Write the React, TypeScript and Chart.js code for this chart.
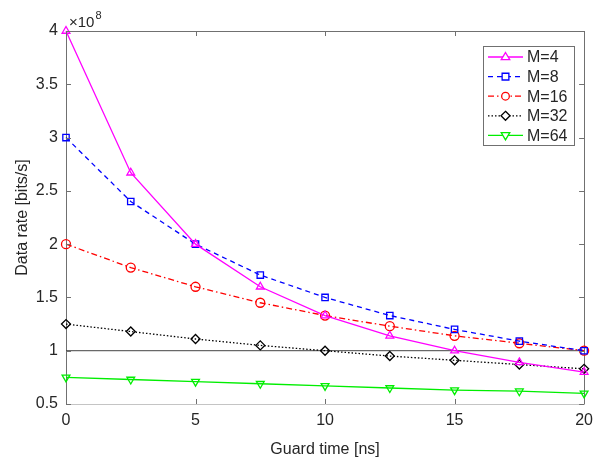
import React, { useEffect, useRef } from "react";
import { Chart, registerables } from "chart.js";

Chart.register(...registerables);

const guardTimes = [0, 2.5, 5, 7.5, 10, 12.5, 15, 17.5, 20];
const seriesNames = ["M=4", "M=8", "M=16", "M=32", "M=64"];
const rateM4 = [4.0, 2.67, 2.0, 1.6, 1.33, 1.14, 1.0, 0.89, 0.8];
const rateM8 = [3.0, 2.4, 2.0, 1.71, 1.5, 1.33, 1.2, 1.09, 1.0];
const rateM16 = [2.0, 1.78, 1.6, 1.45, 1.33, 1.23, 1.14, 1.07, 1.0];
const rateM32 = [1.25, 1.18, 1.11, 1.05, 1.0, 0.95, 0.91, 0.87, 0.83];
const rateM64 = [0.75, 0.73, 0.71, 0.69, 0.67, 0.65, 0.63, 0.62, 0.6];
const refLineY = [1, 1];
const refLineX = [0, 20];
const xTitle = "Guard time [ns]";
const yTitle = "Data rate [bits/s]";

const FONT = "'Liberation Sans', Arial, Helvetica, sans-serif";
const TXT = "#262626";
const AXC = "#707070";

const styles = [
  { color: "#ff00ff", dash: [] as number[], point: "triangle", rot: 0 },
  { color: "#0000ff", dash: [5, 4], point: "rect", rot: 0 },
  { color: "#ff0000", dash: [6, 3, 1.5, 3], point: "circle", rot: 0 },
  { color: "#000000", dash: [1.5, 2], point: "rectRot", rot: 0 },
  { color: "#00ee00", dash: [] as number[], point: "triangle", rot: 180 },
];

const seriesData = [rateM4, rateM8, rateM16, rateM32, rateM64];

function drawMarker(ctx: CanvasRenderingContext2D, kind: string, rot: number, r: number, x: number, y: number) {
  ctx.save();
  ctx.translate(x, y);
  ctx.rotate((rot * Math.PI) / 180);
  ctx.beginPath();
  if (kind === "triangle") {
    ctx.moveTo(0, -r);
    ctx.lineTo(r * 0.95, r * 0.6);
    ctx.lineTo(-r * 0.95, r * 0.6);
    ctx.closePath();
  } else if (kind === "rect") {
    const h = r * 0.75;
    ctx.rect(-h, -h, 2 * h, 2 * h);
  } else if (kind === "circle") {
    ctx.arc(0, 0, r * 0.85, 0, Math.PI * 2);
  } else if (kind === "rectRot") {
    ctx.moveTo(0, -r);
    ctx.lineTo(r, 0);
    ctx.lineTo(0, r);
    ctx.lineTo(-r, 0);
    ctx.closePath();
  }
  ctx.fill();
  ctx.stroke();
  ctx.restore();
}

const decorPlugin = {
  id: "decor",
  beforeDatasetsDraw(chart: any) {
    const ctx = chart.ctx;
    const { left, right, top, bottom } = chart.chartArea;
    ctx.save();
    ctx.lineWidth = 1;
    ctx.setLineDash([]);
    // box: left, top, right in gray; bottom lighter
    const L = Math.round(left) + 0.5, R = Math.round(right) + 0.5, T = Math.round(top) + 0.5, B = Math.round(bottom) + 0.5;
    ctx.strokeStyle = AXC;
    ctx.beginPath();
    ctx.moveTo(L, B);
    ctx.lineTo(L, T);
    ctx.lineTo(R, T);
    ctx.lineTo(R, B);
    ctx.stroke();
    ctx.strokeStyle = "#c4c4c4";
    ctx.beginPath();
    ctx.moveTo(L, B);
    ctx.lineTo(R, B);
    ctx.stroke();
    ctx.restore();
  },
  afterDatasetsDraw(chart: any) {
    const ctx = chart.ctx;
    const { left, right, top, bottom } = chart.chartArea;
    const xs = chart.scales.x;
    const ys = chart.scales.y;
    ctx.save();
    ctx.strokeStyle = AXC;
    ctx.lineWidth = 1;
    ctx.setLineDash([]);
    const tl = 5;
    for (let v = 0; v <= 20; v += 5) {
      const px = Math.round(xs.getPixelForValue(v)) + 0.5;
      ctx.beginPath();
      ctx.moveTo(px, bottom);
      ctx.lineTo(px, bottom - tl);
      ctx.moveTo(px, top);
      ctx.lineTo(px, top + tl);
      ctx.stroke();
    }
    for (let v = 0.5; v <= 4.001; v += 0.5) {
      const py = Math.round(ys.getPixelForValue(v)) + 0.5;
      ctx.beginPath();
      ctx.moveTo(left, py);
      ctx.lineTo(left + tl, py);
      ctx.moveTo(right, py);
      ctx.lineTo(right - tl, py);
      ctx.stroke();
    }
    // exponent label
    ctx.fillStyle = TXT;
    ctx.font = `15px ${FONT}`;
    ctx.textBaseline = "alphabetic";
    ctx.textAlign = "left";
    ctx.fillText("\u00d710", left + 3, top - 4);
    const w = ctx.measureText("\u00d710").width;
    ctx.font = `11px ${FONT}`;
    ctx.fillText("8", left + 3 + w + 1, top - 12);

    // axis titles
    ctx.font = `16px ${FONT}`;
    ctx.textAlign = "center";
    ctx.textBaseline = "middle";
    ctx.fillText(xTitle, (left + right) / 2, 450);
    ctx.save();
    ctx.translate(23, (top + bottom) / 2);
    ctx.rotate(-Math.PI / 2);
    ctx.fillText(yTitle, 0, 0);
    ctx.restore();

    // legend
    const bx = 483, by = 46, bw = 91, bh = 99;
    ctx.fillStyle = "#ffffff";
    ctx.fillRect(bx, by, bw, bh);
    ctx.strokeStyle = AXC;
    ctx.lineWidth = 1;
    ctx.strokeRect(bx + 0.5, by + 0.5, bw, bh);
    seriesNames.forEach((name, i) => {
      const st = styles[i];
      const cy = 57 + i * 19.6;
      ctx.strokeStyle = st.color;
      ctx.lineWidth = 1.3;
      ctx.setLineDash(st.dash);
      ctx.beginPath();
      ctx.moveTo(488, cy);
      ctx.lineTo(523, cy);
      ctx.stroke();
      ctx.setLineDash([]);
      ctx.fillStyle = "#ffffff";
      drawMarker(ctx, st.point, st.rot, 4.5, 505.5, cy);
      ctx.fillStyle = TXT;
      ctx.font = `16px ${FONT}`;
      ctx.textAlign = "left";
      ctx.textBaseline = "middle";
      ctx.fillText(name, 527, cy + 1);
    });
    ctx.restore();
  },
};

export default function App() {
  const ref = useRef<HTMLCanvasElement | null>(null);
  useEffect(() => {
    if (!ref.current) return;
    const datasets: any[] = seriesNames.map((name, i) => ({
      label: name,
      data: guardTimes.map((x, j) => ({ x, y: seriesData[i][j] })),
      borderColor: styles[i].color,
      backgroundColor: "rgba(0,0,0,0)",
      borderWidth: 1.3,
      borderDash: styles[i].dash,
      pointStyle: styles[i].point,
      pointRotation: styles[i].rot,
      pointRadius: 4.5,
      pointBorderWidth: 1.3,
      pointBackgroundColor: "rgba(0,0,0,0)",
      pointBorderColor: styles[i].color,
      tension: 0,
      clip: false,
      order: i,
    }));
    datasets.push({
      label: "ref",
      data: refLineX.map((x, j) => ({ x, y: refLineY[j] })),
      borderColor: "#444444",
      borderWidth: 1,
      pointRadius: 0,
      order: 10,
    });
    const chart = new Chart(ref.current, {
      type: "line",
      data: { datasets },
      plugins: [decorPlugin],
      options: {
        animation: false,
        responsive: false,
        devicePixelRatio: 1,
        layout: { padding: { left: 0, right: 9, top: 31, bottom: 0 } },
        plugins: { legend: { display: false }, tooltip: { enabled: false } },
        scales: {
          x: {
            type: "linear",
            min: 0,
            max: 20,
            ticks: { stepSize: 5, color: TXT, font: { family: FONT, size: 16 }, padding: 7, maxRotation: 0, callback: (v: any) => String(v) },
            grid: { display: false, drawTicks: false },
            border: { display: false },
            afterFit: (s: any) => { s.height = 57; },
          },
          y: {
            type: "linear",
            min: 0.5,
            max: 4,
            ticks: { stepSize: 0.5, color: TXT, font: { family: FONT, size: 16 }, padding: 8, callback: (v: any) => String(v) },
            grid: { display: false, drawTicks: false },
            border: { display: false },
            afterFit: (s: any) => { s.width = 66; },
          },
        },
      },
    } as any);
    return () => chart.destroy();
  }, []);
  return (
    <div style={{ position: "fixed", left: 0, top: 0, width: 600, height: 461, background: "#fff" }}>
      <canvas ref={ref} width={600} height={461} style={{ width: 600, height: 461 }} />
    </div>
  );
}
